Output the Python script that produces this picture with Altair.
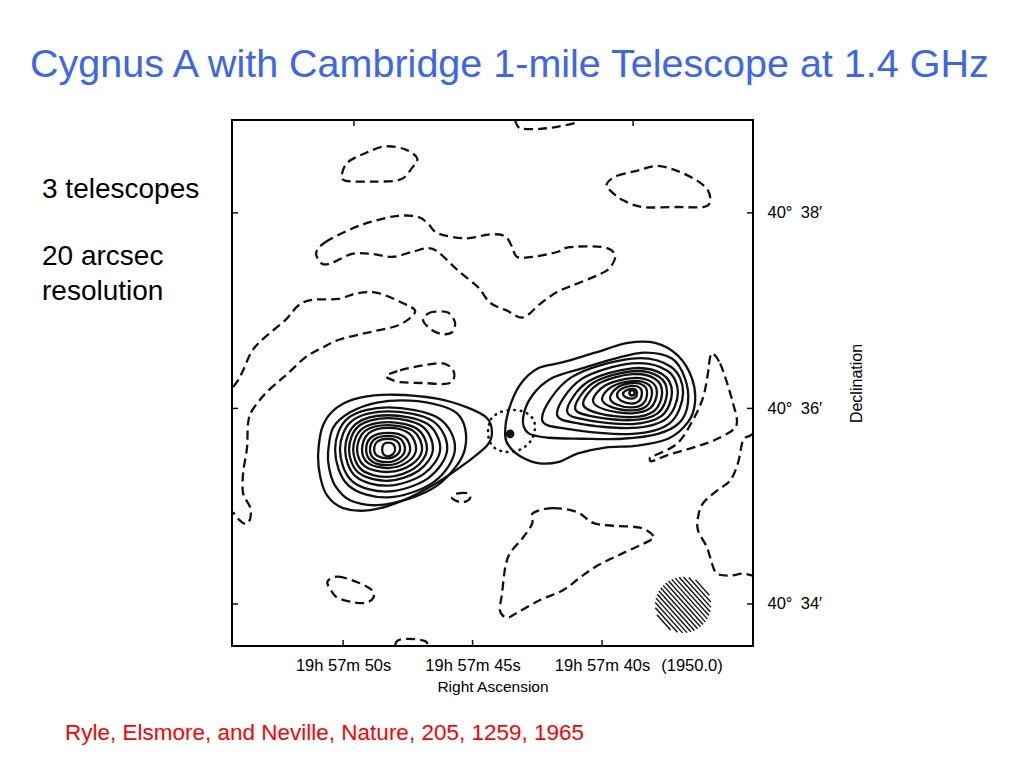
import altair as alt
import numpy as np
import pandas as pd

# ---------------- text ----------------
TITLE = "Cygnus A with Cambridge 1-mile Telescope at 1.4 GHz"
NOTES = ["3 telescopes", "20 arcsec", "resolution"]
CITATION = "Ryle, Elsmore, and Neville, Nature, 205, 1259, 1965"
EPOCH = "(1950.0)"

# ---------------- axes (RA seconds of 19h57m, Dec arcmin of 40 deg) ----------------
RA_TICKS = [50, 45, 40]
RA_TOP_TICKS = [49.58, 38.8]
DEC_TICKS = [38, 36, 34]
RA_DOMAIN = [34.17, 54.29]
DEC_DOMAIN = [33.57, 38.95]

# ---------------- solid contours: west (left) lobe ----------------
W_PEAK = (48.26, 35.58)
W_OUTER_RA = [50.96, 50.77, 50.23, 49.34, 48.07, 46.37, 45.21, 44.44, 44.25, 44.44, 45.21, 46.37, 47.68, 48.96, 50.00, 50.62, 50.89]
W_OUTER_DEC = [35.55, 35.83, 36.01, 36.11, 36.14, 36.10, 36.01, 35.90, 35.75, 35.62, 35.45, 35.24, 35.06, 34.96, 34.98, 35.11, 35.31]
W_RING1_RA = [50.58, 50.39, 49.73, 48.69, 47.41, 46.25, 45.60, 45.29, 45.29, 45.60, 46.37, 47.41, 48.69, 49.73, 50.31, 50.54]
W_RING1_DEC = [35.55, 35.80, 35.96, 36.06, 36.08, 36.03, 35.95, 35.80, 35.59, 35.42, 35.21, 35.08, 35.01, 35.06, 35.21, 35.39]
W_LEFT = [50.31, 50.12, 49.92, 49.77, 49.61, 49.46, 49.27, 49.11, 48.96, 48.80, 48.49]
W_RIGHT = [45.68, 45.98, 46.25, 46.53, 46.76, 46.95, 47.18, 47.41, 47.61, 47.80, 47.99]
W_TOP = [36.01, 35.97, 35.93, 35.90, 35.86, 35.83, 35.80, 35.75, 35.72, 35.69, 35.65]
W_BOTTOM = [35.09, 35.15, 35.21, 35.26, 35.30, 35.35, 35.39, 35.42, 35.45, 35.49, 35.51]

# ---------------- solid contours: east (right) lobe ----------------
E_PEAK = (38.84, 36.16)
E_OUTER_RA = [43.74, 43.63, 43.17, 42.47, 41.54, 40.27, 39.00, 37.95, 37.07, 36.53, 36.41, 36.68, 37.45, 38.61, 39.88, 40.93, 41.70, 42.47, 43.09, 43.55]
E_OUTER_DEC = [35.72, 35.96, 36.24, 36.41, 36.47, 36.57, 36.67, 36.67, 36.54, 36.31, 36.06, 35.86, 35.69, 35.62, 35.60, 35.54, 35.45, 35.44, 35.50, 35.60]
E_RING1_RA = [43.05, 42.70, 41.93, 40.77, 39.50, 38.34, 37.30, 36.80, 36.68, 36.99, 37.84, 39.23, 40.77, 42.08, 42.86]
E_RING1_DEC = [35.90, 36.13, 36.31, 36.41, 36.51, 36.57, 36.51, 36.31, 36.06, 35.86, 35.74, 35.69, 35.69, 35.70, 35.75]
E_LEFT = [42.32, 41.74, 41.35, 41.04, 40.73, 40.35, 40.00, 39.69, 39.42, 39.19]
E_LEFT_DEC = [35.90, 35.95, 35.98, 36.01, 36.05, 36.08, 36.10, 36.11, 36.14, 36.15]
E_RIGHT = [36.87, 37.07, 37.30, 37.49, 37.68, 37.88, 38.07, 38.26, 38.46, 38.65]
E_TOP = [36.51, 36.46, 36.41, 36.38, 36.35, 36.31, 36.28, 36.26, 36.23, 36.20]
E_BOTTOM = [35.74, 35.80, 35.84, 35.88, 35.91, 35.95, 35.98, 36.01, 36.05, 36.10]

# ---------------- dashed (negative) contours, closed ----------------
D1_RA = [50.04, 49.81, 49.15, 48.38, 47.61, 47.14, 47.34, 47.80, 48.88, 49.92]
D1_DEC = [38.40, 38.52, 38.61, 38.68, 38.65, 38.56, 38.46, 38.34, 38.32, 38.33]
D2_RA = [51.04, 50.69, 49.65, 48.76, 47.88, 47.10, 46.72, 46.33, 45.29, 44.32, 43.74, 43.47, 43.28, 42.66, 41.74, 41.24, 39.96, 39.50, 39.69, 40.19, 41.12, 41.74, 42.39, 43.05, 43.67, 44.32, 44.79, 45.56, 46.33, 46.72, 47.34, 48.11, 48.88, 49.65, 50.42, 50.81]
D2_DEC = [37.59, 37.70, 37.84, 37.92, 37.97, 37.96, 37.89, 37.79, 37.74, 37.78, 37.76, 37.65, 37.55, 37.55, 37.60, 37.65, 37.65, 37.57, 37.44, 37.36, 37.26, 37.19, 37.07, 36.93, 37.00, 37.08, 37.24, 37.41, 37.60, 37.64, 37.60, 37.55, 37.58, 37.58, 37.49, 37.48]
D4_RA = [46.91, 46.72, 46.45, 45.95, 45.68, 45.79, 46.14, 46.56]
D4_DEC = [36.90, 36.97, 36.99, 36.98, 36.88, 36.78, 36.76, 36.80]
D5_RA = [48.30, 47.80, 46.91, 46.14, 45.75, 45.75, 46.06, 46.91, 47.80, 48.26]
D5_DEC = [36.34, 36.39, 36.44, 36.46, 36.39, 36.29, 36.25, 36.26, 36.27, 36.31]
D6_RA = [45.79, 45.56, 45.17, 45.10, 45.37, 45.68]
D6_DEC = [35.09, 35.13, 35.13, 35.08, 35.04, 35.06]
D7_RA = [50.58, 50.19, 49.42, 48.88, 48.84, 49.15, 49.65, 50.19, 50.42, 50.58]
D7_DEC = [34.24, 34.28, 34.22, 34.14, 34.06, 34.01, 34.02, 34.06, 34.12, 34.19]
D10_RA = [39.81, 39.42, 38.65, 37.88, 37.10, 36.33, 35.91, 35.83, 36.10, 37.10, 38.42, 39.19, 39.69]
D10_DEC = [38.30, 38.38, 38.43, 38.48, 38.43, 38.33, 38.23, 38.11, 38.06, 38.06, 38.06, 38.13, 38.23]
D11_RA = [35.71, 35.44, 35.17, 34.94, 34.79, 34.94, 35.71, 36.49, 37.49, 38.07, 38.15, 38.03, 37.10, 36.49, 36.10, 35.91, 35.83]
D11_DEC = [36.56, 36.46, 36.26, 36.05, 35.88, 35.78, 35.67, 35.60, 35.52, 35.46, 35.49, 35.51, 35.64, 35.88, 36.11, 36.36, 36.52]
D13_RA = [42.66, 41.89, 40.97, 40.35, 39.58, 38.53, 38.03, 38.15, 39.19, 40.19, 40.85, 41.51, 42.39, 43.28, 43.67, 43.94, 43.86, 43.74, 43.55, 43.05, 42.70]
D13_DEC = [34.93, 34.98, 34.94, 34.83, 34.80, 34.78, 34.70, 34.65, 34.52, 34.39, 34.27, 34.14, 34.04, 33.91, 33.86, 33.93, 34.11, 34.37, 34.52, 34.68, 34.82]

# ---------------- dashed contours that run into the frame ----------------
D3_RA = [54.25, 54.05, 53.86, 53.51, 53.01, 52.24, 51.74, 51.20, 50.19, 49.42, 48.65, 47.72, 47.22, 47.53, 48.11, 49.15, 50.19, 50.81, 51.47, 52.12, 52.43, 53.01, 53.51, 53.67, 53.71, 53.86, 53.86, 53.59, 53.59, 53.78, 54.05, 54.25]
D3_DEC = [36.22, 36.29, 36.39, 36.59, 36.73, 36.90, 37.05, 37.11, 37.12, 37.18, 37.18, 37.08, 37.00, 36.90, 36.83, 36.77, 36.70, 36.62, 36.52, 36.36, 36.29, 36.15, 35.98, 35.85, 35.60, 35.34, 35.13, 34.99, 34.87, 34.82, 34.87, 34.94]
D8_RA = [47.99, 47.92, 47.72, 47.22, 46.83, 46.72]
D8_DEC = [33.58, 33.62, 33.64, 33.64, 33.62, 33.58]
D9_RA = [43.36, 43.24, 43.05, 42.39, 41.74, 41.04, 40.97]
D9_DEC = [38.95, 38.88, 38.86, 38.86, 38.88, 38.92, 38.95]
D12_RA = [34.17, 34.29, 34.56, 34.75, 35.06, 35.56, 36.10, 36.29, 36.29, 35.95, 35.75, 35.56, 35.06, 34.56, 34.17]
D12_DEC = [35.74, 35.72, 35.67, 35.44, 35.26, 35.16, 35.03, 34.89, 34.75, 34.58, 34.41, 34.31, 34.29, 34.31, 34.29]

# ---------------- dotted contour, blob, peak ----------------
DOT_RA = [44.40, 44.29, 44.02, 43.67, 43.24, 42.90, 42.66, 42.59, 42.70, 42.97, 43.36, 43.82, 44.17, 44.36]
DOT_DEC = [35.78, 35.89, 35.95, 35.98, 35.98, 35.95, 35.89, 35.80, 35.69, 35.61, 35.56, 35.56, 35.60, 35.68]
BLOB = (43.55, 35.74)

# ---------------- beam (hatched disc) ----------------
BEAM_RA, BEAM_DEC = 36.87, 33.99
BEAM_R_RA, BEAM_R_DEC = 1.08, 0.286
BEAM_HATCH_LINES = 16

# ================= build tables =================
def rows_from(name, ras, decs):
    return [dict(cid=name, i=i, ra=r, dec=d) for i, (r, d) in enumerate(zip(ras, decs))]


def ring_rows(name, peak, lx, ly, rx, ry, t, b, f):
    cx, cy = peak
    ful, fur, flr, fll = f
    pts = [
        (lx, ly),
        (cx + ful * (lx - cx), ly + ful * (t - ly)),
        (cx, t),
        (cx + fur * (rx - cx), ry + fur * (t - ry)),
        (rx, ry),
        (cx + flr * (rx - cx), ry + flr * (b - ry)),
        (cx, b),
        (cx + fll * (lx - cx), ly + fll * (b - ly)),
    ]
    return rows_from(name, [p[0] for p in pts], [p[1] for p in pts])


solid = []
solid += rows_from("w0", W_OUTER_RA, W_OUTER_DEC)
solid += rows_from("w1", W_RING1_RA, W_RING1_DEC)
for k in range(len(W_LEFT)):
    solid += ring_rows(f"w{k+2}", W_PEAK, W_LEFT[k], W_PEAK[1], W_RIGHT[k], W_PEAK[1],
                       W_TOP[k], W_BOTTOM[k], (0.75, 0.75, 0.68, 0.75))
solid += rows_from("e0", E_OUTER_RA, E_OUTER_DEC)
solid += rows_from("e1", E_RING1_RA, E_RING1_DEC)
for k in range(len(E_LEFT)):
    solid += ring_rows(f"e{k+2}", E_PEAK, E_LEFT[k], E_LEFT_DEC[k], E_RIGHT[k], E_PEAK[1],
                       E_TOP[k], E_BOTTOM[k], (0.68, 0.76, 0.74, 0.70))
solid_df = pd.DataFrame(solid)

closed = []
for nm, r, d in [("d1", D1_RA, D1_DEC), ("d2", D2_RA, D2_DEC), ("d4", D4_RA, D4_DEC),
                 ("d5", D5_RA, D5_DEC), ("d6", D6_RA, D6_DEC), ("d7", D7_RA, D7_DEC),
                 ("d10", D10_RA, D10_DEC), ("d11", D11_RA, D11_DEC), ("d13", D13_RA, D13_DEC)]:
    closed += rows_from(nm, r, d)
closed_df = pd.DataFrame(closed)

opened = []
for nm, r, d in [("d3", D3_RA, D3_DEC), ("d8", D8_RA, D8_DEC), ("d9", D9_RA, D9_DEC),
                 ("d12", D12_RA, D12_DEC)]:
    opened += rows_from(nm, r, d)
open_df = pd.DataFrame(opened)

dot_df = pd.DataFrame(rows_from("dot", DOT_RA, DOT_DEC))

# hatch chords of the beam disc
ang = np.deg2rad(48)
dx, dy = np.cos(ang), np.sin(ang)
nx, ny = dy, -dx
hatch = []
for c in np.linspace(-0.93, 0.93, BEAM_HATCH_LINES):
    h = np.sqrt(1 - c * c)
    p1 = (c * nx - h * dx, c * ny - h * dy)
    p2 = (c * nx + h * dx, c * ny + h * dy)
    hatch.append(dict(ra=BEAM_RA - p1[0] * BEAM_R_RA, dec=BEAM_DEC - p1[1] * BEAM_R_DEC,
                      ra2=BEAM_RA - p2[0] * BEAM_R_RA, dec2=BEAM_DEC - p2[1] * BEAM_R_DEC))
hatch_df = pd.DataFrame(hatch)

# ================= chart =================
W, H = 521, 526
FONT = "Liberation Sans"
INK = "#111111"
LW = 2.3

x_enc = alt.X(
    "ra:Q",
    scale=alt.Scale(domain=RA_DOMAIN, reverse=True, nice=False, zero=False),
    axis=alt.Axis(values=RA_TICKS, labelExpr="'19h 57m ' + datum.value + 's'",
                  ticks=False, domain=False, grid=False, labelFlush=False, labelOverlap=False,
                  labelFont=FONT, labelFontSize=16.5, labelColor="black", labelPadding=11,
                  title="Right Ascension", titleFont=FONT, titleFontSize=15.5,
                  titleFontWeight="normal", titleColor="black", titlePadding=6),
)
y_enc = alt.Y(
    "dec:Q",
    scale=alt.Scale(domain=DEC_DOMAIN, nice=False, zero=False),
    axis=alt.Axis(orient="right", values=DEC_TICKS,
                  labelExpr="'40°\u2002' + datum.value + '′'",
                  ticks=False, domain=False, grid=False, labelFlush=False, labelOverlap=False,
                  labelFont=FONT, labelFontSize=16.5, labelColor="black", labelPadding=14,
                  title="Declination", titleFont=FONT, titleFontSize=16, titleAngle=270,
                  titleFontWeight="normal", titleColor="black", titlePadding=43),
)

solid_layer = alt.Chart(solid_df).mark_line(
    interpolate="cardinal-closed", color=INK, strokeWidth=LW
).encode(x=x_enc, y=y_enc, detail="cid:N", order="i:Q")

closed_layer = alt.Chart(closed_df).mark_line(
    interpolate="cardinal-closed", color=INK, strokeWidth=LW, strokeDash=[9, 5]
).encode(x=x_enc, y=y_enc, detail="cid:N", order="i:Q")

open_layer = alt.Chart(open_df).mark_line(
    interpolate="cardinal", color=INK, strokeWidth=LW, strokeDash=[9, 5]
).encode(x=x_enc, y=y_enc, detail="cid:N", order="i:Q")

dot_layer = alt.Chart(dot_df).mark_line(
    interpolate="cardinal-closed", color=INK, strokeWidth=2.6, strokeDash=[0.5, 6], strokeCap="round"
).encode(x=x_enc, y=y_enc, order="i:Q")

blob_layer = alt.Chart(pd.DataFrame([dict(ra=BLOB[0], dec=BLOB[1])])).mark_point(
    shape="circle", filled=True, size=75, color=INK, opacity=1
).encode(x=x_enc, y=y_enc)

peak_layer = alt.Chart(pd.DataFrame([dict(ra=E_PEAK[0], dec=E_PEAK[1])])).mark_point(
    shape="circle", filled=False, size=28, color=INK, strokeWidth=2.5, opacity=1
).encode(x=x_enc, y=y_enc)

hatch_layer = alt.Chart(hatch_df).mark_rule(color=INK, strokeWidth=1.4).encode(
    x=x_enc, y=y_enc, x2="ra2:Q", y2="dec2:Q"
)

bottom_ticks = alt.Chart(pd.DataFrame({"ra": RA_TICKS})).mark_rule(color=INK, strokeWidth=1.5).encode(
    x=x_enc, y=alt.value(H), y2=alt.value(H - 6))
top_ticks = alt.Chart(pd.DataFrame({"ra": RA_TOP_TICKS})).mark_rule(color=INK, strokeWidth=1.5).encode(
    x=x_enc, y=alt.value(0), y2=alt.value(6))
left_ticks = alt.Chart(pd.DataFrame({"dec": DEC_TICKS})).mark_rule(color=INK, strokeWidth=1.5).encode(
    y=y_enc, x=alt.value(0), x2=alt.value(6))
right_ticks = alt.Chart(pd.DataFrame({"dec": DEC_TICKS})).mark_rule(color=INK, strokeWidth=1.5).encode(
    y=y_enc, x=alt.value(W), x2=alt.value(W - 6))


def label(text, x, y, size, color="black", align="left"):
    return alt.Chart(pd.DataFrame({"t": [text]})).mark_text(
        font=FONT, fontSize=size, color=color, align=align, baseline="alphabetic"
    ).encode(x=alt.value(x), y=alt.value(y), text="t:N")


texts = [
    label(TITLE, -202, -43, 39.5, color="#3A66F0"),
    label(NOTES[0], -190, 78, 28),
    label(NOTES[1], -190, 145, 28),
    label(NOTES[2], -190, 180, 28),
    label(CITATION, -167, 620, 22.5, color="#FF0000"),
    label(EPOCH, 460, 551, 16.5, align="center"),
]

chart = alt.layer(
    solid_layer, closed_layer, open_layer, dot_layer, blob_layer, peak_layer, hatch_layer,
    bottom_ticks, top_ticks, left_ticks, right_ticks, *texts
).properties(
    width=W, height=H,
    autosize=alt.AutoSizeParams(type="none"),
    padding={"left": 224, "top": 112, "right": 240, "bottom": 110},
    background="white",
).configure_view(stroke="black", strokeWidth=2)

chart.save("out.html", embed_options={"renderer": "svg", "actions": False})
